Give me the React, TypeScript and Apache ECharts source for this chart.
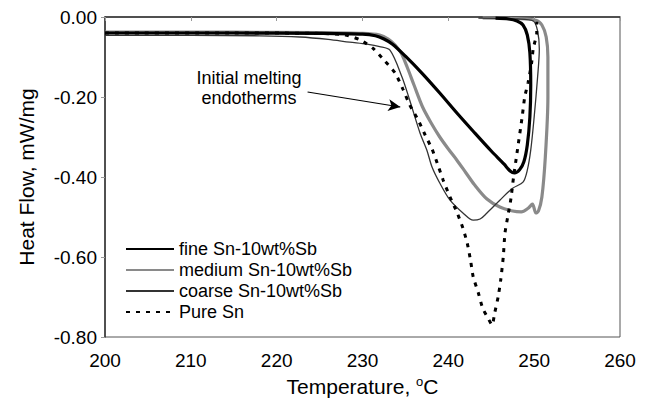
import React, { useEffect, useRef } from "react";
import * as echarts from "echarts";

const xTicks = { min: 200, max: 260, interval: 10 };
const yTicks = { min: -0.8, max: 0, interval: 0.2 };

const seriesNames = ["fine Sn-10wt%Sb", "medium Sn-10wt%Sb", "coarse Sn-10wt%Sb", "Pure Sn"];

const fineData: number[][] = [
  [200, -0.040], [215, -0.040], [225, -0.041], [230, -0.043], [231.5, -0.047],
  [232.5, -0.055], [233.5, -0.068], [235, -0.098], [237, -0.142], [239, -0.19],
  [241, -0.24], [243, -0.288], [245, -0.335], [246.5, -0.368], [247.2, -0.385],
  [247.7, -0.39], [248.3, -0.382], [248.8, -0.362], [249.2, -0.32], [249.5, -0.25],
  [249.6, -0.17], [249.5, -0.09], [249.2, -0.045], [248.7, -0.02], [248.0, -0.01],
  [247.0, -0.005], [245.5, -0.003],
];

const mediumData: number[][] = [
  [200, -0.038], [215, -0.038], [225, -0.039], [230, -0.041], [232, -0.045],
  [233, -0.055], [233.8, -0.07], [234.5, -0.09], [235.2, -0.125], [236, -0.17],
  [237, -0.225], [238, -0.265], [239, -0.3], [240, -0.33], [241, -0.358],
  [242, -0.388], [243, -0.418], [244.5, -0.455], [246, -0.475], [247.5, -0.485],
  [248.5, -0.487], [249.3, -0.478], [249.8, -0.468], [250.2, -0.49], [250.5, -0.485],
  [250.9, -0.45], [251.3, -0.35], [251.6, -0.2], [251.6, -0.1], [251.4, -0.05],
  [250.9, -0.02], [250.2, -0.008], [248, -0.004], [244, -0.002],
];

const coarseData: number[][] = [
  [200, -0.046], [210, -0.046], [218, -0.047], [222.7, -0.05], [226, -0.056],
  [228.5, -0.063], [230.5, -0.068], [232, -0.074], [233.2, -0.083], [234.6, -0.15],
  [235.5, -0.208], [236.7, -0.29], [237.5, -0.333], [238.1, -0.375], [239, -0.415],
  [240.2, -0.458], [241.7, -0.49], [242.9, -0.508], [243.7, -0.505], [244.5, -0.49],
  [246, -0.458], [247.5, -0.428], [248.7, -0.413], [249.2, -0.383], [249.6, -0.333],
  [250, -0.25], [250.4, -0.15], [250.6, -0.08], [250.4, -0.035], [249.9, -0.01],
  [248, -0.005], [243.5, -0.003],
];

const pureData: number[][] = [
  [200, -0.04], [215, -0.04], [225, -0.041], [228, -0.045], [229.7, -0.057],
  [231.2, -0.078], [232.6, -0.11], [233.8, -0.14], [234.7, -0.18], [235.5, -0.22],
  [236.5, -0.258], [237.3, -0.295], [238.1, -0.33], [238.7, -0.365], [239.4, -0.408],
  [240.2, -0.45], [241, -0.488], [241.7, -0.528], [242.2, -0.565], [242.6, -0.61],
  [242.9, -0.65], [243.5, -0.69], [244, -0.728], [244.6, -0.752], [245.1, -0.77],
  [245.4, -0.74], [245.8, -0.7], [246.1, -0.658], [246.4, -0.6], [246.6, -0.54],
  [247, -0.49], [247.3, -0.453], [247.6, -0.4], [248, -0.34], [248.6, -0.25],
  [248.9, -0.2], [249.3, -0.163], [249.7, -0.115], [249.9, -0.078], [250.3, -0.04],
  [250.3, -0.012],
];

const arrowStart = [223.6, -0.1875];
const arrowEnd = [234.4, -0.225];
const annotationText = "Initial melting\nendotherms";

const FONT = '"Liberation Sans", Arial, sans-serif';

export default function App() {
  const ref = useRef<HTMLDivElement>(null);
  useEffect(() => {
    if (!ref.current) return;
    const chart = echarts.init(ref.current, undefined, { renderer: "svg" });
    chart.setOption({
      animation: false,
      backgroundColor: "#fff",
      textStyle: { fontFamily: FONT },
      grid: {
        left: 105, top: 17, right: 31, bottom: 68,
        show: true, borderColor: "#555", borderWidth: 1, backgroundColor: "transparent",
      },
      legend: {
        orient: "vertical",
        left: 125,
        top: 240,
        padding: 0,
        itemWidth: 48,
        itemHeight: 14,
        itemGap: 3,
        itemStyle: { opacity: 0 },
        textStyle: { fontSize: 18, color: "#000", fontFamily: FONT, lineHeight: 18 },
        data: seriesNames,
      },
      xAxis: {
        type: "value",
        min: xTicks.min, max: xTicks.max, interval: xTicks.interval,
        name: "Temperature, {sup|o}C",
        nameLocation: "middle",
        nameGap: 27,
        nameTextStyle: {
          fontSize: 21, color: "#000", fontFamily: FONT,
          rich: { sup: { fontSize: 13, verticalAlign: "top", padding: [0, 0, 10, 0], fontFamily: FONT, color: "#000" } },
        },
        axisLine: { lineStyle: { color: "#333", width: 1.5 } },
        axisTick: { show: true, length: 4, lineStyle: { color: "#999" } },
        axisLabel: { fontSize: 19, color: "#000", margin: 14, fontFamily: FONT },
        splitLine: { show: false },
      },
      yAxis: {
        type: "value",
        min: yTicks.min, max: yTicks.max, interval: yTicks.interval,
        name: "Heat Flow, mW/mg",
        nameLocation: "middle",
        nameGap: 68,
        nameTextStyle: { fontSize: 21, color: "#000", fontFamily: FONT },
        axisLine: { show: true, lineStyle: { color: "#333", width: 1.5 } },
        axisTick: { show: true, length: 4, lineStyle: { color: "#999" } },
        axisLabel: {
          fontSize: 19, color: "#000", margin: 8, fontFamily: FONT,
          formatter: (v: number) => (Math.abs(v) < 1e-9 ? 0 : v).toFixed(2),
        },
        splitLine: { show: false },
      },
      graphic: [
        {
          type: "text",
          x: 249,
          y: 88,
          silent: true,
          style: {
            text: annotationText,
            fontSize: 18,
            fontFamily: FONT,
            fill: "#000",
            align: "center",
            verticalAlign: "middle",
            lineHeight: 19.5,
          },
        },
      ],
      series: [
        {
          name: seriesNames[1], type: "line", data: mediumData, symbol: "none", smooth: 0.3,
          lineStyle: { color: "#8a8a8a", width: 3.2 }, itemStyle: { color: "#8a8a8a" }, z: 2,
        },
        {
          name: seriesNames[2], type: "line", data: coarseData, symbol: "none", smooth: 0.3,
          lineStyle: { color: "#333", width: 1.3 }, itemStyle: { color: "#333" }, z: 3,
        },
        {
          name: seriesNames[0], type: "line", data: fineData, symbol: "none", smooth: 0.3,
          lineStyle: { color: "#000", width: 3.2 }, itemStyle: { color: "#000" }, z: 4,
        },
        {
          name: seriesNames[3], type: "line", data: pureData, symbol: "none", smooth: 0.2,
          lineStyle: { color: "#000", width: 3, type: [4, 6] }, itemStyle: { color: "#000" }, z: 5,
          markLine: {
            silent: true,
            symbol: ["none", "arrow"],
            symbolSize: [9, 12],
            label: { show: false },
            lineStyle: { color: "#000", width: 1.2, type: "solid" },
            data: [[{ coord: arrowStart }, { coord: arrowEnd }]],
          },
        },
      ],
    });
    return () => chart.dispose();
  }, []);
  return <div ref={ref} style={{ width: 651, height: 405, position: "absolute", left: 0, top: 0 }} />;
}
